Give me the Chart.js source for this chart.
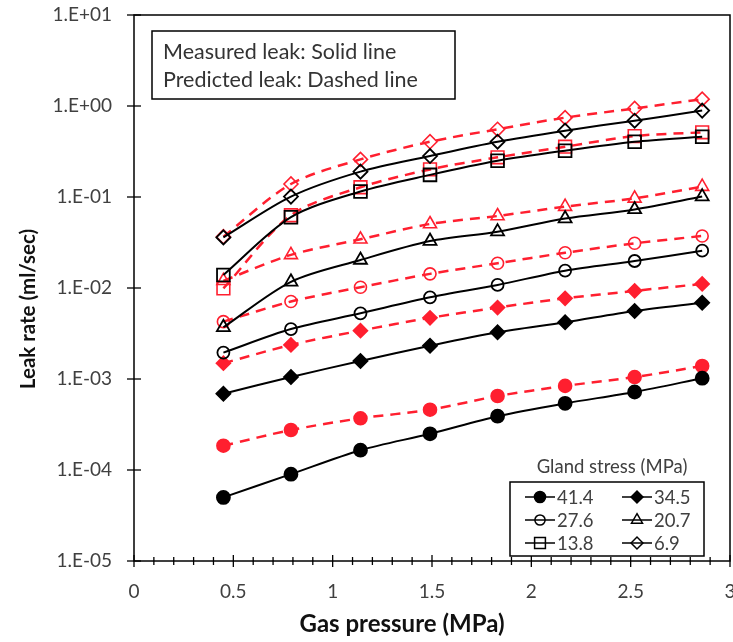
<!DOCTYPE html>
<html>
<head>
<meta charset="utf-8">
<script src="https://cdn.jsdelivr.net/npm/chart.js@4/dist/chart.umd.min.js"></script>
<style>
  html, body { margin: 0; padding: 0; background: #fff; }
</style>
</head>
<body>
<canvas id="myChart" width="733" height="642"></canvas>
<script>
let pressure = [0.45, 0.79, 1.14, 1.49, 1.83, 2.17, 2.52, 2.86];
let glandStress = ["41.4", "34.5", "27.6", "20.7", "13.8", "6.9"];

// measured leak (solid black lines)
let measured41 = [5.0e-5, 9.0e-5, 1.65e-4, 2.5e-4, 3.9e-4, 5.4e-4, 7.2e-4, 1.02e-3];
let measured34 = [6.9e-4, 1.05e-3, 1.58e-3, 2.32e-3, 3.26e-3, 4.2e-3, 5.6e-3, 6.9e-3];
let measured27 = [0.00195, 0.00354, 0.00527, 0.0079, 0.0108, 0.0155, 0.0198, 0.0257];
let measured20 = [0.0037, 0.0117, 0.0203, 0.0328, 0.0416, 0.058, 0.073, 0.101];
let measured13 = [0.0139, 0.06, 0.115, 0.175, 0.25, 0.323, 0.405, 0.46];
let measured6 = [0.036, 0.101, 0.19, 0.282, 0.405, 0.536, 0.69, 0.89];

// predicted leak (dashed red lines)
let predicted41 = [1.85e-4, 2.75e-4, 3.7e-4, 4.6e-4, 6.5e-4, 8.4e-4, 1.05e-3, 1.39e-3];
let predicted34 = [1.49e-3, 2.37e-3, 3.4e-3, 4.7e-3, 6.1e-3, 7.7e-3, 9.3e-3, 0.0111];
let predicted27 = [0.00427, 0.0071, 0.0102, 0.0143, 0.0187, 0.0244, 0.031, 0.0373];
let predicted20 = [0.012, 0.0231, 0.0343, 0.0505, 0.0618, 0.0784, 0.0966, 0.13];
let predicted13 = [0.0099, 0.063, 0.128, 0.201, 0.273, 0.357, 0.467, 0.514];
let predicted6 = [0.0366, 0.139, 0.259, 0.405, 0.555, 0.745, 0.94, 1.19];

let yTicks = [1e-5, 1e-4, 1e-3, 1e-2, 1e-1, 1e0, 1e1];
let yTickLabels = ["1.E-05", "1.E-04", "1.E-03", "1.E-02", "1.E-01", "1.E+00", "1.E+01"];
let xTicks = [0, 0.5, 1, 1.5, 2, 2.5, 3];
let xTickLabels = ["0", "0.5", "1", "1.5", "2", "2.5", "3"];

let measured = [measured41, measured34, measured27, measured20, measured13, measured6];
let predicted = [predicted41, predicted34, predicted27, predicted20, predicted13, predicted6];

// marker styles per gland stress
let markers = ["circle", "rectRot", "circle", "triangle", "rect", "rectRot"];
let filled = [true, true, false, false, false, false];
let radii = [6.5, 7, 6, 7.5, 9, 7];

let red = "#ff1f2f";
let fontFamily = "Lato, 'Liberation Sans', sans-serif";

let datasets = [];
glandStress.forEach((g, i) => {
  datasets.push({
    label: g + " predicted",
    data: pressure.map((p, j) => ({ x: p, y: predicted[i][j] })),
    borderColor: red,
    borderWidth: 2.5,
    borderDash: [10, 7],
    pointStyle: markers[i],
    pointRadius: radii[i],
    pointBorderWidth: 1.6,
    pointBorderColor: red,
    pointBackgroundColor: filled[i] ? red : "rgba(0,0,0,0)",
    tension: 0.3,
    order: 1,
  });
  datasets.push({
    label: g + " measured",
    data: pressure.map((p, j) => ({ x: p, y: measured[i][j] })),
    borderColor: "#000",
    borderWidth: 2,
    pointStyle: markers[i],
    pointRadius: radii[i],
    pointBorderWidth: 1.8,
    pointBorderColor: "#000",
    pointBackgroundColor: filled[i] ? "#000" : "rgba(0,0,0,0)",
    tension: 0.3,
    order: 0,
  });
});

let decorations = {
  id: "decorations",
  beforeDatasetsDraw(chart) {
    let { ctx, chartArea: a, scales } = chart;
    ctx.save();
    ctx.strokeStyle = "#000";
    ctx.lineWidth = 1.5;
    ctx.strokeRect(a.left, a.top, a.right - a.left, a.bottom - a.top);
    ctx.lineWidth = 1.3;
    for (let i = 0; i <= 30; i++) {
      let px = scales.x.getPixelForValue(i / 10);
      let len = i % 5 === 0 ? 6 : 4;
      ctx.beginPath();
      ctx.moveTo(px, a.bottom - len);
      ctx.lineTo(px, a.bottom + len);
      ctx.stroke();
    }
    yTicks.forEach((v) => {
      let py = scales.y.getPixelForValue(v);
      ctx.beginPath();
      ctx.moveTo(a.left - 7, py);
      ctx.lineTo(a.left + 7, py);
      ctx.stroke();
    });

    // axis titles
    ctx.fillStyle = "#111";
    ctx.textAlign = "center";
    ctx.textBaseline = "middle";
    ctx.font = "bold 24px " + fontFamily;
    ctx.fillText("Gas pressure (MPa)", 402, 624);
    ctx.translate(28, 309);
    ctx.rotate(-Math.PI / 2);
    ctx.font = "bold 20.5px " + fontFamily;
    ctx.fillText("Leak rate (ml/sec)", 0, 0);
    ctx.restore();
  },
  afterDatasetsDraw(chart) {
    let { ctx, chartArea: a } = chart;
    ctx.save();

    // note box top left
    let bx = a.left + 18, by = a.top + 16;
    ctx.fillStyle = "#fff";
    ctx.fillRect(bx, by, 303, 68);
    ctx.strokeStyle = "#000";
    ctx.lineWidth = 1.5;
    ctx.strokeRect(bx, by, 303, 68);
    ctx.fillStyle = "#333";
    ctx.font = "21.5px " + fontFamily;
    ctx.textBaseline = "middle";
    ctx.fillText("Measured leak: Solid line", bx + 11, by + 21);
    ctx.fillText("Predicted leak: Dashed line", bx + 11, by + 49);

    // gland stress legend bottom right
    let lx = a.right - 220, ly = a.bottom - 79;
    ctx.fillStyle = "#fff";
    ctx.fillRect(lx, ly, 194, 74);
    ctx.strokeRect(lx, ly, 194, 74);
    ctx.fillStyle = "#404040";
    ctx.font = "18.5px " + fontFamily;
    ctx.textAlign = "center";
    ctx.fillText("Gland stress (MPa)", lx + 102, ly - 15);
    ctx.textAlign = "left";
    glandStress.forEach((g, i) => {
      let col = i % 2, row = Math.floor(i / 2);
      let x0 = lx + 15 + col * 97;
      let y0 = ly + 15 + row * 23;
      ctx.strokeStyle = "#000";
      ctx.lineWidth = 1.5;
      ctx.beginPath();
      ctx.moveTo(x0, y0);
      ctx.lineTo(x0 + 30, y0);
      ctx.stroke();
      ctx.fillStyle = filled[i] ? "#000" : "rgba(0,0,0,0)";
      Chart.helpers.drawPoint(ctx, {
        pointStyle: markers[i],
        radius: radii[i] * 0.85,
        rotation: 0,
        borderWidth: 1.5,
      }, x0 + 15, y0);
      ctx.fillStyle = "#404040";
      ctx.fillText(g, x0 + 32, y0 + 1);
    });
    ctx.restore();
  },
};

let leakChart = new Chart(document.getElementById("myChart"), {
  type: "line",
  data: { datasets: datasets },
  plugins: [decorations],
  options: {
    responsive: false,
    animation: false,
    layout: { autoPadding: false, padding: { top: 15, right: 3, left: 0, bottom: 0 } },
    plugins: {
      legend: { display: false },
      tooltip: { enabled: false },
    },
    scales: {
      x: {
        type: "linear",
        min: 0,
        max: 3,
        afterBuildTicks: (axis) => {
          axis.ticks = xTicks.map((v) => ({ value: v }));
        },
        afterFit: (axis) => {
          axis.height = 81;
          axis.paddingLeft = 0;
          axis.paddingRight = 0;
        },
        ticks: {
          callback: (v, i) => xTickLabels[i],
          padding: 19,
          maxRotation: 0,
          autoSkip: false,
          color: "#404040",
          font: { family: fontFamily, size: 19 },
        },
        grid: { display: false, drawTicks: false },
        border: { display: false },
      },
      y: {
        type: "logarithmic",
        min: 1e-5,
        max: 10,
        afterBuildTicks: (axis) => {
          axis.ticks = yTicks.map((v) => ({ value: v }));
        },
        afterFit: (axis) => {
          axis.width = 134;
          axis.paddingTop = 0;
          axis.paddingBottom = 0;
        },
        ticks: {
          callback: (v, i) => yTickLabels[i],
          padding: 22,
          autoSkip: false,
          color: "#404040",
          font: { family: fontFamily, size: 19 },
        },
        grid: { display: false, drawTicks: false },
        border: { display: false },
      },
    },
  },
});
</script>
</body>
</html>
